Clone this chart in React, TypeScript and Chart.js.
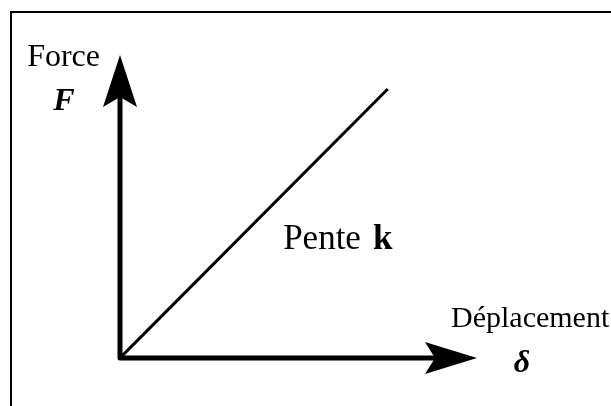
import React, { useEffect, useRef } from "react";
import { Chart, registerables } from "chart.js";

Chart.register(...registerables);

// Axis ranges (arbitrary units)
const xRange = [0, 10];
const yRange = [0, 10];

// Linear response F = k·δ (start and end of the drawn segment)
const lineX = [0, 7.5];
const lineY = [0, 8.88];

// Texts
const yTitle = "Force";
const ySymbol = "F";
const xTitle = "Déplacement";
const xSymbol = "δ";
const slopeText = "Pente";
const slopeSymbol = "k";
// where the slope text sits (data units)
const slopeAt = [4.57, 3.6];

const FONT = "'Liberation Serif', 'Times New Roman', serif";

const diagramPlugin = {
  id: "diagram",
  afterDraw(chart: any) {
    const { ctx, width, height } = chart;
    const xs = chart.scales.x;
    const ys = chart.scales.y;
    const x0 = xs.getPixelForValue(xRange[0]);
    const y0 = ys.getPixelForValue(yRange[0]);
    const xEnd = xs.getPixelForValue(xRange[1]);
    const yEnd = ys.getPixelForValue(yRange[1]);

    ctx.save();
    // frame (top + left)
    ctx.strokeStyle = "#000";
    ctx.lineWidth = 2;
    ctx.beginPath();
    ctx.moveTo(11, height);
    ctx.lineTo(11, 12);
    ctx.lineTo(width, 12);
    ctx.stroke();

    // axes
    const headLen = 52;
    const notch = 42;
    const half = 17;
    ctx.lineWidth = 5;
    ctx.lineJoin = "round";
    ctx.beginPath();
    ctx.moveTo(x0, yEnd + notch);
    ctx.lineTo(x0, y0);
    ctx.lineTo(xEnd - notch, y0);
    ctx.stroke();

    ctx.fillStyle = "#000";
    // vertical head
    ctx.beginPath();
    ctx.moveTo(x0, yEnd);
    ctx.lineTo(x0 + half, yEnd + headLen);
    ctx.lineTo(x0, yEnd + notch);
    ctx.lineTo(x0 - half, yEnd + headLen);
    ctx.closePath();
    ctx.fill();
    // horizontal head
    ctx.beginPath();
    ctx.moveTo(xEnd, y0);
    ctx.lineTo(xEnd - headLen, y0 - half + 1);
    ctx.lineTo(xEnd - notch, y0);
    ctx.lineTo(xEnd - headLen, y0 + half - 1);
    ctx.closePath();
    ctx.fill();

    // texts
    ctx.fillStyle = "#000";
    ctx.textBaseline = "alphabetic";
    ctx.font = `32px ${FONT}`;
    ctx.textAlign = "right";
    ctx.fillText(yTitle, x0 - 20, yEnd + 11);
    ctx.font = `italic bold 32px ${FONT}`;
    ctx.textAlign = "center";
    ctx.fillText(ySymbol, x0 - 56, yEnd + 55);

    ctx.font = `30px ${FONT}`;
    ctx.textAlign = "left";
    ctx.fillText(xTitle, xEnd - 26, y0 - 31);
    ctx.font = `italic bold 32px ${FONT}`;
    ctx.textAlign = "center";
    ctx.fillText(xSymbol, xEnd + 45, y0 + 14);

    const sx = xs.getPixelForValue(slopeAt[0]);
    const sy = ys.getPixelForValue(slopeAt[1]);
    ctx.textAlign = "left";
    ctx.font = `35px ${FONT}`;
    ctx.fillText(slopeText, sx, sy);
    const w = ctx.measureText(slopeText).width;
    ctx.font = `bold 35px ${FONT}`;
    ctx.fillText(slopeSymbol, sx + w + 12, sy);
    ctx.restore();
  },
};

export default function App() {
  const ref = useRef<HTMLCanvasElement>(null);
  useEffect(() => {
    if (!ref.current) return;
    const chart = new Chart(ref.current, {
      type: "scatter",
      data: {
        datasets: [
          {
            data: lineX.map((x, i) => ({ x, y: lineY[i] })),
            showLine: true,
            borderColor: "#000",
            borderWidth: 3,
            pointRadius: 0,
          },
        ],
      },
      options: {
        responsive: false,
        animation: false,
        devicePixelRatio: 1,
        layout: { padding: { left: 120, right: 134, top: 55, bottom: 48 } },
        plugins: { legend: { display: false }, tooltip: { enabled: false } },
        scales: {
          x: { type: "linear", min: xRange[0], max: xRange[1], display: false },
          y: { type: "linear", min: yRange[0], max: yRange[1], display: false },
        },
      },
      plugins: [diagramPlugin],
    });
    return () => chart.destroy();
  }, []);
  return (
    <div style={{ position: "fixed", left: 0, top: 0, width: 611, height: 406, background: "#fff" }}>
      <canvas ref={ref} width={611} height={406} style={{ display: "block" }} />
    </div>
  );
}
